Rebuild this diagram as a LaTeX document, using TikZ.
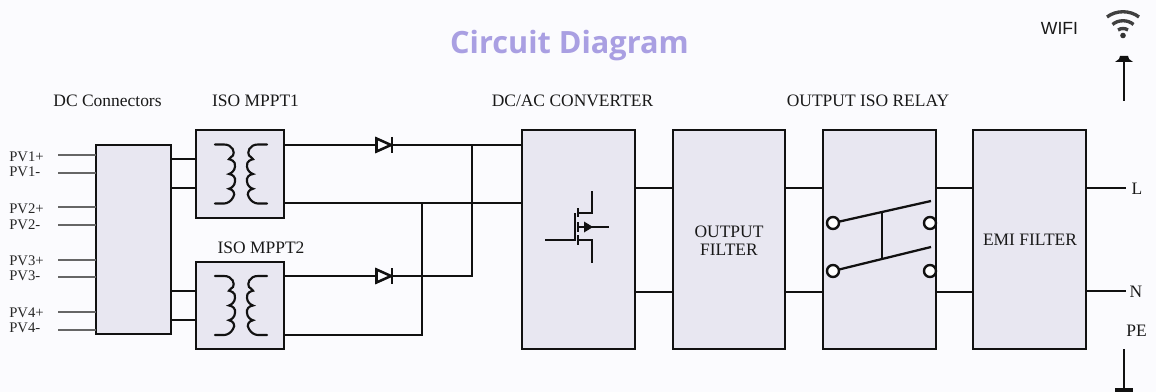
\documentclass[tikz,border=0pt]{standalone}
\usepackage{fontspec}
\setmainfont{Liberation Serif}
\newfontfamily\titlefont{Open Sans}
\newfontfamily\wififont{Liberation Sans}
\definecolor{bgc}{HTML}{FBFBFE}
\definecolor{boxc}{HTML}{E8E7F1}
\definecolor{titlec}{HTML}{A99FE2}
\definecolor{inkc}{HTML}{111111}
\begin{document}
\begin{tikzpicture}[x=0.75pt,y=-0.75pt,
  blockbox/.style={draw=inkc,fill=boxc,line width=1.9pt,inner sep=0pt,outer sep=0pt,anchor=north west},
  wire/.style={draw=inkc,line width=1.75pt},
  thin wire/.style={draw=black!60,line width=1.05pt},
  sym/.style={draw=inkc,line width=1.5pt},
  lab/.style={font=\fontsize{13.1pt}{15pt}\selectfont,text=black!90,inner sep=0pt},
  pv/.style={font=\fontsize{11pt}{12pt}\selectfont,text=black!85,inner sep=0pt,anchor=base west},
  term/.style={circle,draw=inkc,fill=white,line width=1.8pt,minimum size=9pt,inner sep=0pt,outer sep=0pt},
  coil/.pic={
    \draw[sym,line width=1.6pt,line cap=round]
      (-21,0) -- (-12,0) .. controls (-3,0) and (-1,8) .. (-3,11)
      .. controls (-4,12) and (-6,13) .. (-7,14.75) .. controls (-6,15) and (0,16) .. (-1,22)
      .. controls (-1,26) and (-5,29) .. (-7,29.5) .. controls (-3,30) and (0,33) .. (-1,37)
      .. controls (-1,41) and (-5,44) .. (-7,44.25) .. controls (-3,45) and (0,49) .. (-3,53)
      .. controls (-5,57) and (-9,59) .. (-12,59) -- (-21,59);
    \draw[sym,line width=1.6pt,line cap=round]
      (31,0) -- (22,0) .. controls (13,0) and (11,8) .. (13,11)
      .. controls (14,12) and (16,13) .. (17,14.75) .. controls (16,15) and (10,16) .. (11,22)
      .. controls (11,26) and (15,29) .. (17,29.5) .. controls (13,30) and (10,33) .. (11,37)
      .. controls (11,41) and (15,44) .. (17,44.25) .. controls (13,45) and (10,49) .. (13,53)
      .. controls (15,57) and (19,59) .. (22,59) -- (31,59);
  },
  diodepic/.pic={
    \draw[sym,line width=1.9pt,fill=bgc,line join=miter] (-7.5,-6.5) -- (7,0) -- (-7.5,6.5) -- cycle;
    \draw[sym,line width=1.9pt] (8,-8) -- (8,8);
  }
]
\useasboundingbox[fill=bgc] (0,0) rectangle (1156,392);

% title and top labels
\node[font=\titlefont\bfseries\fontsize{23pt}{28pt}\selectfont,text=titlec,inner sep=0pt] (title) at (569.5,45.5) {Circuit Diagram};
\node[lab] (tdc) at (107.5,100.5) {DC Connectors};
\node[lab] (tm1) at (255.5,100.5) {ISO MPPT1};
\node[lab] (tm2) at (261,247.5) {ISO MPPT2};
\node[lab] (tconv) at (572.5,100.5) {DC/AC CONVERTER};
\node[lab] (trel) at (868,100.5) {OUTPUT ISO RELAY};
\node[font=\wififont\fontsize{13.2pt}{15pt}\selectfont,text=black!90,inner sep=0pt] (twifi) at (1059.5,28) {WIFI};
\node[lab] (tl) at (1137,189) {L};
\node[lab] (tn) at (1136,291.5) {N};
\node[lab] (tpe) at (1136.5,331) {PE};

% blocks
\node[blockbox,minimum width=56.25pt,minimum height=141.75pt] (dc) at (96,145) {};
\node[blockbox,minimum width=66pt,minimum height=66pt] (m1) at (196,130) {};
\node[blockbox,minimum width=66pt,minimum height=65.25pt] (m2) at (196,262) {};
\node[blockbox,minimum width=84.75pt,minimum height=164.25pt] (conv) at (522,130) {};
\node[blockbox,minimum width=84pt,minimum height=164.25pt] (filt) at (673,130) {};
\node[blockbox,minimum width=84.75pt,minimum height=164.25pt] (rel) at (823,130) {};
\node[blockbox,minimum width=84.75pt,minimum height=164.25pt] (emi) at (973,130) {};

\node[lab,align=center,font=\fontsize{13.1pt}{13.5pt}\selectfont] (tfilt) at (729,241) {OUTPUT\\FILTER};
\node[lab] (temi) at (1030,240) {EMI FILTER};

% PV inputs
\foreach \n/\y/\b/\t in {a/155/161.5/PV1+,b/173/176.5/PV1-,c/207/213.5/PV2+,d/225/229.5/PV2-,e/260/265.5/PV3+,f/277/280.5/PV3-,g/312/317.5/PV4+,h/330/332.5/PV4-}{
  \node[pv] (l\n) at (9,\b) {\t};
  \coordinate (s\n) at (58,\y);
  \draw[thin wire] (s\n) -- (dc.west |- s\n);
}

% DC to MPPT
\foreach \y in {159,188}{ \coordinate (q) at (0,\y); \draw[wire] (dc.east |- q) -- (m1.west |- q); }
\foreach \y in {291,320}{ \coordinate (q) at (0,\y); \draw[wire] (dc.east |- q) -- (m2.west |- q); }

% rails
\coordinate (y1) at (0,145); \coordinate (y2) at (0,203); \coordinate (y3) at (0,276); \coordinate (y4) at (0,335);
\coordinate (j1) at (472,145); \coordinate (j2) at (472,276);
\coordinate (j3) at (422,203); \coordinate (j4) at (422,335);
\draw[wire] (m1.east |- y1) -- (conv.west |- y1);
\draw[wire] (m1.east |- y2) -- (conv.west |- y2);
\draw[wire] (m2.east |- y3) -- (j2) -- (j1);
\draw[wire] (m2.east |- y4) -- (j4) -- (j3);

% block to block
\foreach \y in {188,292}{ \coordinate (q) at (0,\y);
  \draw[wire] (conv.east |- q) -- (filt.west |- q);
  \draw[wire] (filt.east |- q) -- (rel.west |- q);
  \draw[wire] (rel.east |- q) -- (emi.west |- q);
}
\coordinate (el) at (1126,188); \coordinate (en) at (1126,291);
\draw[wire] (emi.east |- el) -- (el);
\draw[wire] (emi.east |- en) -- (en);

% diodes
\pic at (384,145) {diodepic};
\pic at (384,276) {diodepic};

% transformers
\pic at (236,144.5) {coil};
\pic at (236,276) {coil};

% MOSFET
\draw[sym] (545,240) -- (575,240) -- (575,213);
\draw[sym] (578,208) -- (578,217) (578,222) -- (578,232) (578,235) -- (578,245);
\draw[sym] (578,213) -- (592,213) -- (592,191);
\draw[sym] (578,240) -- (592,240) -- (592,263);
\draw[sym] (578,227) -- (609,227);
\fill[inkc] (584,221.5) -- (593,227) -- (584,232.5) -- cycle;

% relay
\node[term] (r1) at (833,223) {};
\node[term] (r2) at (833,271) {};
\node[term] (r3) at (930,223) {};
\node[term] (r4) at (930,271) {};
\draw[sym,line width=1.7pt] (r1) -- (931,201);
\draw[sym,line width=1.7pt] (r2) -- (931,247);
\draw[sym] (882,212) -- (882,259);

% antenna
\coordinate (a1) at (1124,57); \coordinate (a2) at (1124,101);
\draw[wire] (a1) -- (a2);
\fill[inkc] (1120,56) -- (1128,56) -- (1129,59) -- (1133,62) -- (1115,62) -- (1119,59) -- cycle;

% PE
\coordinate (p1) at (1124,349); \coordinate (p2) at (1124,392);
\draw[wire] (p1) -- (p2);
\fill[inkc] (1115,388) rectangle (1133,392);

% wifi
\fill[black!80] (1123,35.5) circle (2.8);
\draw[black!75,line width=2.5pt] (1107,17) .. controls (1116,10) and (1130,10) .. (1139,17);
\draw[black!75,line width=2.5pt] (1112.5,24.5) .. controls (1118,19.5) and (1128,19.5) .. (1133.5,24.5);
\draw[black!75,line width=2.5pt] (1118,30) .. controls (1121,28) and (1125,28) .. (1128,30);
\end{tikzpicture}
\end{document}
